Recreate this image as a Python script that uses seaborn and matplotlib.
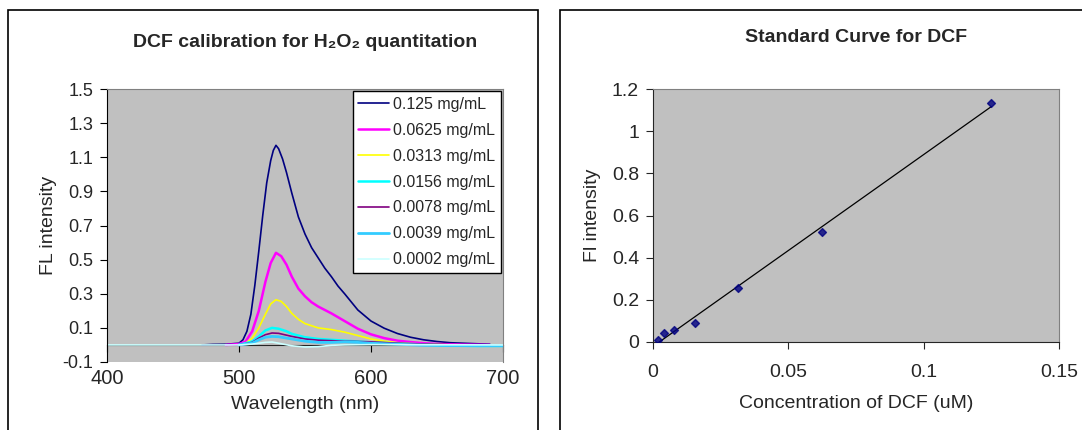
import numpy as np
import pandas as pd
import seaborn as sns
import matplotlib.pyplot as plt
from matplotlib.patches import Rectangle
from matplotlib.ticker import FuncFormatter

# Espectros de emissao (comprimento de onda em nm, intensidade FL)
wl_0125 = [472, 480, 490, 500, 503, 506, 509, 512, 515, 518, 521, 524, 526, 528, 530, 533, 536, 540, 545, 550, 555, 560, 565, 570, 575, 580, 590, 600, 610, 620, 630, 640, 650, 660, 670, 680, 690]
fl_0125 = [0, 0.003, 0.004, 0.01, 0.03, 0.08, 0.18, 0.35, 0.55, 0.76, 0.95, 1.08, 1.14, 1.17, 1.15, 1.09, 1.01, 0.89, 0.75, 0.65, 0.57, 0.51, 0.45, 0.4, 0.345, 0.3, 0.205, 0.14, 0.098, 0.067, 0.045, 0.03, 0.02, 0.013, 0.01, 0.007, 0.004]

wl_0625 = [490, 500, 505, 510, 515, 520, 524, 528, 532, 536, 540, 545, 550, 555, 560, 570, 580, 590, 600, 610, 620, 630, 640, 650, 660, 670, 680, 690]
fl_0625 = [0, 0.005, 0.02, 0.08, 0.2, 0.37, 0.48, 0.54, 0.52, 0.47, 0.4, 0.33, 0.285, 0.25, 0.225, 0.185, 0.14, 0.095, 0.062, 0.04, 0.025, 0.017, 0.01, 0.006, 0.004, 0.002, 0.001, 0]

wl_0313 = [500, 505, 510, 515, 520, 524, 528, 532, 536, 540, 545, 550, 560, 570, 580, 590, 600, 610, 620, 630, 640, 650, 660]
fl_0313 = [0, 0.01, 0.04, 0.1, 0.18, 0.24, 0.265, 0.255, 0.225, 0.185, 0.15, 0.125, 0.1, 0.09, 0.075, 0.055, 0.035, 0.022, 0.013, 0.008, 0.005, 0.003, 0]

wl_0156 = [500, 510, 515, 520, 525, 530, 536, 540, 550, 560, 570, 580, 590, 600, 620, 640, 660, 680, 700]
fl_0156 = [0, 0.02, 0.05, 0.085, 0.1, 0.095, 0.08, 0.065, 0.045, 0.035, 0.03, 0.025, 0.02, 0.015, 0.008, 0.003, -0.004, -0.006, -0.006]

wl_0078 = [500, 510, 515, 520, 525, 530, 540, 550, 560, 570, 580, 600, 620, 640, 660, 680]
fl_0078 = [0, 0.015, 0.04, 0.06, 0.07, 0.068, 0.05, 0.035, 0.028, 0.025, 0.022, 0.018, 0.01, 0.005, 0.002, 0]

wl_0039 = [500, 510, 515, 520, 525, 530, 540, 550, 560, 570, 580, 590, 600, 620, 640, 660, 680, 700]
fl_0039 = [0, 0.01, 0.03, 0.045, 0.05, 0.048, 0.035, 0.022, 0.015, 0.015, 0.018, 0.015, 0.01, 0.004, -0.002, -0.004, -0.004, -0.004]

wl_0002 = [400, 500, 510, 520, 525, 530, 540, 550, 560, 570, 580, 600, 700]
fl_0002 = [0, 0, 0.005, 0.015, 0.017, 0.01, -0.005, -0.012, -0.01, -0.002, 0, 0.002, 0]

rotulos = ["0.125 mg/mL", "0.0625 mg/mL", "0.0313 mg/mL", "0.0156 mg/mL",
           "0.0078 mg/mL", "0.0039 mg/mL", "0.0002 mg/mL"]
cores = ["#000080", "#FF00FF", "#FFFF00", "#00FFFF", "#800080", "#33CCFF", "#CCFFFF"]
larguras = [1.2, 1.8, 1.2, 1.8, 1.2, 2.0, 1.2]
espectros = [(wl_0125, fl_0125), (wl_0625, fl_0625), (wl_0313, fl_0313), (wl_0156, fl_0156),
             (wl_0078, fl_0078), (wl_0039, fl_0039), (wl_0002, fl_0002)]

# Curva padrao
conc_dcf = [0.002, 0.0039, 0.0078, 0.0156, 0.0313, 0.0625, 0.125]
fl_dcf = [0.01, 0.045, 0.055, 0.09, 0.255, 0.52, 1.135]

sns.set_style("ticks")
plt.rcParams['font.family'] = ['Liberation Sans', 'DejaVu Sans']

fig = plt.figure(figsize = (10.82, 4.30), dpi = 100)
fmt = FuncFormatter(lambda v, p: f"{v:g}")

# Caixas dos graficos
fig.add_artist(Rectangle((8 / 1082, -0.05), (538 - 8) / 1082, 1 - 10 / 430 + 0.05,
                         transform = fig.transFigure, fill = False, ec = 'black', lw = 1.2))
fig.add_artist(Rectangle((560 / 1082, -0.05), 0.6, 1 - 10 / 430 + 0.05,
                         transform = fig.transFigure, fill = False, ec = 'black', lw = 1.2))

# Grafico 1 - espectros
ax1 = fig.add_axes([107 / 1082, 1 - 362 / 430, (503 - 107) / 1082, (362 - 89) / 430])
ax1.set_facecolor('#C0C0C0')
for (wl, fl), rot, cor, lw in zip(espectros, rotulos, cores, larguras):
    sns.lineplot(x = wl, y = fl, color = cor, linewidth = lw, label = rot, ax = ax1)
ax1.set_xlim(400, 700)
ax1.set_ylim(-0.1, 1.5)
ax1.set_xticks([400, 500, 600, 700])
ax1.set_yticks(np.arange(-0.1, 1.51, 0.2))
ax1.yaxis.set_major_formatter(fmt)
ax1.spines['bottom'].set_position(('data', 0))
ax1.spines['bottom'].set_zorder(1)
for s in ['top', 'right']:
    ax1.spines[s].set_color('#808080')
ax1.spines['left'].set_color('black')
ax1.tick_params(axis = 'x', direction = 'out', length = 5, pad = 12, labelsize = 14.5, color = 'black')
ax1.tick_params(axis = 'y', direction = 'out', length = 5, pad = 5, labelsize = 13, color = 'black')
ax1.set_xlabel('Wavelength (nm)', fontsize = 14, labelpad = 6)
ax1.set_ylabel('FL intensity', fontsize = 14, labelpad = 4)
ax1.set_title('DCF calibration for H\u2082O\u2082 quantitation', fontsize = 14, fontweight = 'bold', pad = 30)
leg = ax1.legend(loc = 'upper right', bbox_to_anchor = (1.0, 1.0), borderaxespad = 0.15,
                 fontsize = 11.5, frameon = True, fancybox = False, framealpha = 1,
                 edgecolor = 'black', handlelength = 1.9, handletextpad = 0.25,
                 labelspacing = 0.68, borderpad = 0.35)
leg.get_frame().set_linewidth(1.0)

# Grafico 2 - curva padrao
ax2 = fig.add_axes([653 / 1082, 1 - 342 / 430, (1059 - 653) / 1082, (342 - 89) / 430])
ax2.set_facecolor('#C0C0C0')
sns.regplot(x = conc_dcf, y = fl_dcf, ci = None, marker = 'D', ax = ax2,
            scatter_kws = {'s': 16, 'color': '#000080', 'zorder': 3},
            line_kws = {'color': 'black', 'linewidth': 0.9})
ax2.set_xlim(0, 0.15)
ax2.set_ylim(0, 1.2)
ax2.set_xticks([0, 0.05, 0.1, 0.15])
ax2.set_yticks(np.arange(0, 1.21, 0.2))
ax2.xaxis.set_major_formatter(fmt)
ax2.yaxis.set_major_formatter(fmt)
for s in ['top', 'right']:
    ax2.spines[s].set_color('#808080')
ax2.tick_params(axis = 'x', direction = 'out', length = 5, pad = 11, labelsize = 14)
ax2.tick_params(axis = 'y', direction = 'out', length = 5, pad = 5, labelsize = 14)
ax2.set_xlabel('Concentration of DCF (uM)', fontsize = 14, labelpad = 10)
ax2.set_ylabel('Fl intensity', fontsize = 14, labelpad = 8)
ax2.set_title('Standard Curve for DCF', fontsize = 14, fontweight = 'bold', pad = 34)

fig.savefig('out.png', dpi = 100)
